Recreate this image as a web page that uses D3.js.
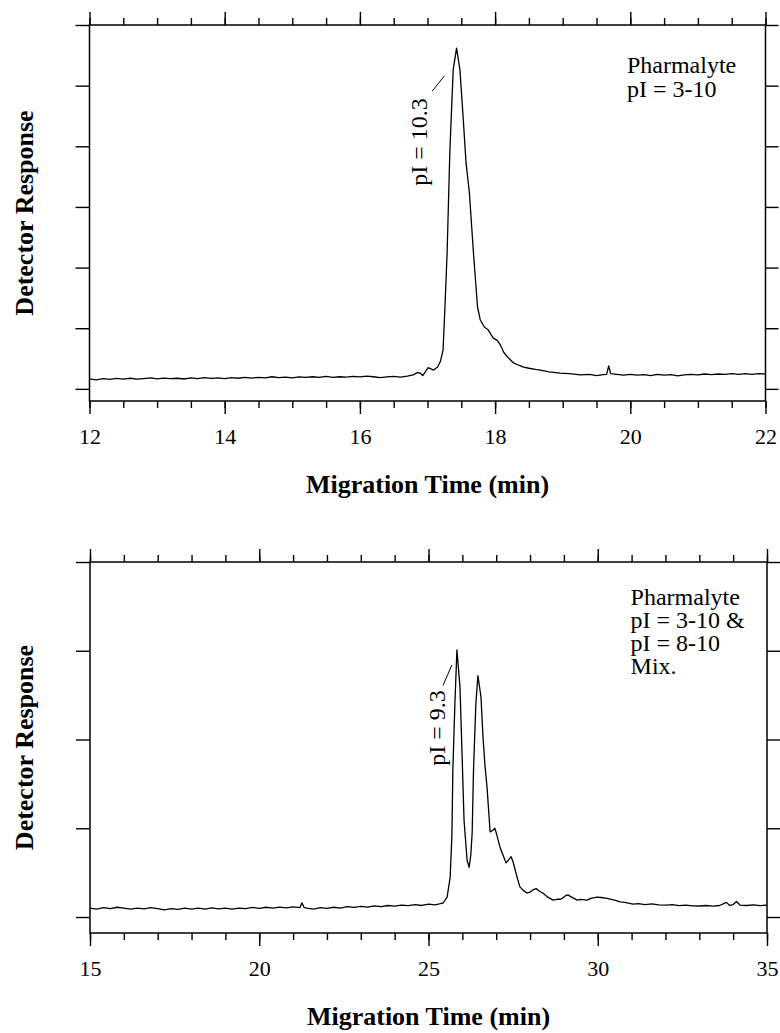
<!DOCTYPE html>
<html>
<head>
<meta charset="utf-8">
<script src="https://cdn.jsdelivr.net/npm/d3@7"></script>
<style>
  html, body { margin: 0; padding: 0; background: #fff; }
  svg { display: block; }
  text { font-family: "Liberation Serif", "Times New Roman", serif; fill: #000; }
</style>
</head>
<body>
<svg id="chart" width="780" height="1033"></svg>
<script>
// ---------- Panel A: Pharmalyte pI 3-10 ----------
const timeA = [12.0,12.1,12.2,12.3,12.4,12.5,12.6,12.7,12.8,12.9,13.0,13.1,13.2,13.3,13.4,13.5,13.6,13.7,13.8,13.9,
  14.0,14.1,14.2,14.3,14.4,14.5,14.6,14.7,14.8,14.9,15.0,15.1,15.2,15.3,15.4,15.5,15.6,15.7,15.8,15.9,
  16.0,16.1,16.2,16.3,16.4,16.5,16.6,16.7,16.79,16.85,16.89,16.93,17.01,17.05,17.09,17.15,17.19,17.23,17.26,17.29,
  17.33,17.38,17.43,17.48,17.53,17.57,17.62,17.68,17.74,17.78,17.84,17.90,17.97,18.03,18.08,18.13,18.18,18.27,18.35,18.42,
  18.5,18.6,18.67,18.8,18.96,19.1,19.26,19.4,19.5,19.6,19.65,19.68,19.71,19.8,19.9,20.0,20.1,20.2,20.3,20.4,
  20.5,20.6,20.7,20.8,20.9,21.0,21.1,21.2,21.3,21.4,21.5,21.6,21.7,21.8,21.9,22.0];
const respA = [0.165,0.15,0.17,0.158,0.172,0.16,0.175,0.162,0.17,0.18,0.165,0.178,0.168,0.175,0.163,0.18,0.17,0.185,0.172,0.18,
  0.17,0.185,0.175,0.19,0.178,0.19,0.18,0.2,0.185,0.195,0.183,0.198,0.188,0.2,0.19,0.205,0.19,0.2,0.193,0.205,
  0.198,0.21,0.2,0.185,0.198,0.205,0.195,0.21,0.23,0.27,0.26,0.22,0.35,0.33,0.31,0.36,0.45,0.64,1.4,2.24,
  3.89,5.26,5.62,5.26,4.43,3.73,3.23,2.24,1.35,1.14,1.02,0.97,0.84,0.8,0.72,0.6,0.53,0.43,0.39,0.36,
  0.34,0.32,0.31,0.28,0.26,0.25,0.23,0.24,0.22,0.235,0.24,0.38,0.25,0.24,0.225,0.24,0.225,0.235,0.22,0.24,
  0.225,0.235,0.215,0.23,0.24,0.232,0.245,0.235,0.245,0.238,0.25,0.24,0.25,0.24,0.252,0.245];

// ---------- Panel B: Pharmalyte pI 3-10 & 8-10 mix ----------
const timeB = [15.0,15.2,15.4,15.6,15.8,16.0,16.2,16.4,16.6,16.8,17.0,17.2,17.4,17.6,17.8,18.0,18.2,18.4,18.6,18.8,
  19.0,19.2,19.4,19.6,19.8,20.0,20.2,20.4,20.6,20.8,21.0,21.2,21.26,21.32,21.4,21.6,21.8,22.0,22.2,22.4,
  22.6,22.8,23.0,23.2,23.4,23.6,23.8,24.0,24.2,24.4,24.6,24.8,25.0,25.2,25.35,25.43,25.55,25.64,25.69,25.72,
  25.78,25.84,25.93,25.99,26.05,26.14,26.2,26.25,26.29,26.33,26.4,26.46,26.55,26.61,26.67,26.73,26.82,26.87,26.91,26.96,
  27.0,27.11,27.2,27.29,27.36,27.44,27.5,27.56,27.63,27.7,27.8,27.91,28.0,28.1,28.18,28.28,28.38,28.5,28.68,28.8,
  28.88,28.95,29.05,29.12,29.2,29.3,29.39,29.5,29.68,29.8,29.98,30.1,30.27,30.4,30.55,30.66,30.8,31.04,31.2,31.4,
  31.6,31.8,32.05,32.2,32.4,32.6,32.8,33.03,33.2,33.4,33.6,33.8,33.9,34.0,34.1,34.2,34.4,34.6,34.8,35.0];
const respB = [0.10,0.09,0.105,0.095,0.11,0.1,0.088,0.1,0.092,0.105,0.095,0.08,0.095,0.085,0.1,0.088,0.1,0.09,0.102,0.092,
  0.1,0.088,0.1,0.095,0.108,0.098,0.11,0.1,0.112,0.102,0.115,0.105,0.16,0.11,0.1,0.09,0.105,0.098,0.11,0.1,
  0.118,0.108,0.12,0.112,0.125,0.118,0.13,0.122,0.135,0.128,0.14,0.13,0.145,0.138,0.15,0.158,0.225,0.45,0.9,1.66,
  2.41,3.01,2.59,1.85,1.09,0.64,0.56,0.7,0.95,1.66,2.41,2.72,2.48,2.03,1.7,1.46,0.96,0.97,0.98,1.0,
  0.95,0.79,0.7,0.61,0.64,0.68,0.62,0.53,0.43,0.34,0.3,0.27,0.28,0.31,0.32,0.29,0.27,0.23,0.19,0.2,
  0.2,0.21,0.24,0.25,0.23,0.21,0.19,0.2,0.19,0.21,0.225,0.22,0.21,0.2,0.185,0.17,0.165,0.146,0.15,0.14,
  0.148,0.138,0.135,0.14,0.128,0.135,0.125,0.124,0.13,0.122,0.13,0.165,0.13,0.14,0.175,0.135,0.13,0.138,0.128,0.135];

// ---------- axis ticks & labels ----------
const majorTicksA = [12,14,16,18,20,22];
const majorTicksB = [15,20,25,30,35];
const yTicksA = [0,1,2,3,4,5,6];
const yTicksB = [0,1,2,3,4];
const xTitle = "Migration Time (min)";
const yTitle = "Detector Response";
const noteA = ["Pharmalyte", "pI = 3-10"];
const noteB = ["Pharmalyte", "pI = 3-10 &", "pI = 8-10", "Mix."];
const peakLabelA = "pI = 10.3";
const peakLabelB = "pI = 9.3";

const svg = d3.select("#chart");

function panel(cfg) {
  const g = svg.append("g");
  const x = d3.scaleLinear().domain(cfg.xDomain).range([cfg.left, cfg.right]);
  const y = d3.scaleLinear().domain(cfg.yDomain).range([cfg.bottom, cfg.top]);
  const minor = d3.range(cfg.xDomain[0], cfg.xDomain[1] + 1e-9, cfg.minorStep);

  const axStyle = sel => {
    sel.attr("font-family", null);
    sel.select(".domain").remove();
    sel.selectAll("line").attr("stroke", "#000").attr("stroke-width", 1.4);
    sel.selectAll("text").attr("font-size", 22).attr("fill", "#000")
      .style("font-family", '"Liberation Serif", "Times New Roman", serif');
  };
  // minor ticks (bottom & top)
  g.append("g").attr("transform", `translate(0,${cfg.bottom})`)
    .call(d3.axisBottom(x).tickValues(minor).tickSize(7).tickFormat("")).call(axStyle);
  g.append("g").attr("transform", `translate(0,${cfg.top})`)
    .call(d3.axisTop(x).tickValues(minor).tickSize(7).tickFormat("")).call(axStyle);
  // major ticks
  g.append("g").attr("transform", `translate(0,${cfg.bottom})`)
    .call(d3.axisBottom(x).tickValues(cfg.major).tickSize(13).tickPadding(14).tickFormat(d3.format("d"))).call(axStyle);
  g.append("g").attr("transform", `translate(0,${cfg.top})`)
    .call(d3.axisTop(x).tickValues(cfg.major).tickSize(13).tickFormat("")).call(axStyle);
  // y ticks
  g.append("g").attr("transform", `translate(${cfg.left},0)`)
    .call(d3.axisLeft(y).tickValues(cfg.yTicks).tickSize(14).tickFormat("")).call(axStyle);
  g.append("g").attr("transform", `translate(${cfg.right},0)`)
    .call(d3.axisRight(y).tickValues(cfg.yTicks).tickSize(13).tickFormat("")).call(axStyle);

  // frame
  g.append("rect").attr("x", cfg.left).attr("y", cfg.top)
    .attr("width", cfg.right - cfg.left).attr("height", cfg.bottom - cfg.top)
    .attr("fill", "none").attr("stroke", "#000").attr("stroke-width", 1.5);

  // trace
  const pts = cfg.t.map((d, i) => [d, cfg.r[i]]);
  g.append("path").datum(pts)
    .attr("fill", "none").attr("stroke", "#000").attr("stroke-width", 1.3)
    .attr("stroke-linejoin", "round")
    .attr("d", d3.line().x(d => x(d[0])).y(d => y(d[1])));

  // axis titles
  g.append("text").attr("x", (cfg.left + cfg.right) / 2).attr("y", cfg.bottom + cfg.xTitleOffset)
    .attr("text-anchor", "middle").attr("font-size", 26).attr("font-weight", "bold").text(xTitle);
  g.append("text")
    .attr("transform", `translate(33,${(cfg.top + cfg.bottom) / 2 + cfg.yTitleShift}) rotate(-90)`)
    .attr("text-anchor", "middle").attr("font-size", 26).attr("font-weight", "bold").text(yTitle);

  // note
  const nt = g.append("text").attr("font-size", 24);
  cfg.note.forEach((s, i) => {
    nt.append("tspan").attr("x", x(cfg.noteAt[0])).attr("y", cfg.top + cfg.noteTop + i * cfg.noteGap).text(s);
  });

  // peak label and leader
  g.append("text")
    .attr("transform", `translate(${x(cfg.peakLabelAt[0])},${y(cfg.peakLabelAt[1])}) rotate(-90)`)
    .attr("text-anchor", "middle").attr("dy", "0.35em").attr("font-size", 24).text(cfg.peakLabel);
  g.append("line")
    .attr("x1", x(cfg.leader[0][0])).attr("y1", y(cfg.leader[0][1]))
    .attr("x2", x(cfg.leader[1][0])).attr("y2", y(cfg.leader[1][1]))
    .attr("stroke", "#000").attr("stroke-width", 1);
}

panel({
  t: timeA, r: respA, xDomain: [12, 22], yDomain: [-0.2, 6],
  left: 89.5, right: 765.5, top: 25, bottom: 401,
  minorStep: 0.5, major: majorTicksA, yTicks: yTicksA,
  xTitleOffset: 92, yTitleShift: 0,
  note: noteA, noteAt: [19.95], noteTop: 48, noteGap: 24,
  peakLabel: peakLabelA, peakLabelAt: [16.87, 4.07],
  leader: [[17.07, 4.91], [17.25, 5.16]]
});

panel({
  t: timeB, r: respB, xDomain: [15, 35], yDomain: [-0.18, 4],
  left: 90, right: 767, top: 562, bottom: 933,
  minorStep: 1, major: majorTicksB, yTicks: yTicksB,
  xTitleOffset: 92, yTitleShift: 0,
  note: noteB, noteAt: [30.97], noteTop: 43, noteGap: 23,
  peakLabel: peakLabelB, peakLabelAt: [25.25, 2.13],
  leader: [[25.43, 2.61], [25.69, 2.84]]
});
</script>
</body>
</html>
